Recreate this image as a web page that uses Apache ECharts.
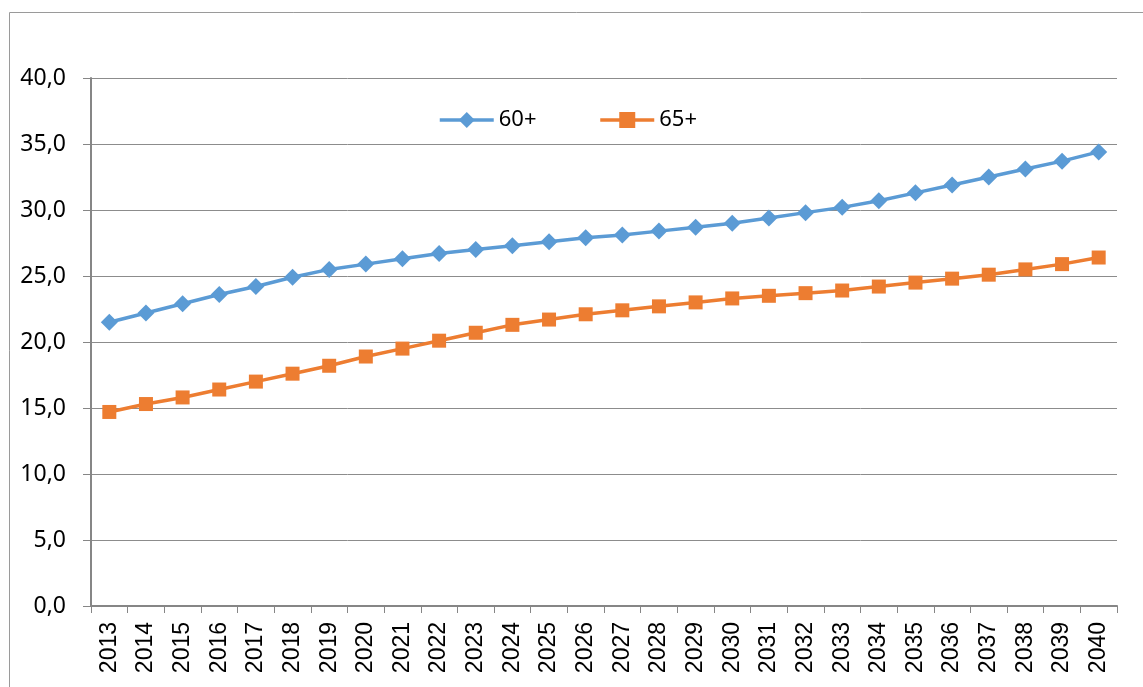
<!DOCTYPE html>
<html>
<head>
<meta charset="utf-8">
<script src="https://cdn.jsdelivr.net/npm/echarts@6/dist/echarts.min.js"></script>
<style>
  html, body { margin: 0; padding: 0; background: #fff; }
  #chart { width: 1143px; height: 687px; }
</style>
</head>
<body>
<div id="chart"></div>
<script>
// Years on the category axis
const years = ['2013','2014','2015','2016','2017','2018','2019','2020','2021','2022',
  '2023','2024','2025','2026','2027','2028','2029','2030','2031','2032',
  '2033','2034','2035','2036','2037','2038','2039','2040'];

// Share of population aged 60 and over
const aged60 = [21.5, 22.2, 22.9, 23.6, 24.2, 24.9, 25.5, 25.9, 26.3, 26.7,
  27.0, 27.3, 27.6, 27.9, 28.1, 28.4, 28.7, 29.0, 29.4, 29.8,
  30.2, 30.7, 31.3, 31.9, 32.5, 33.1, 33.7, 34.4];

// Share of population aged 65 and over
const aged65 = [14.7, 15.3, 15.8, 16.4, 17.0, 17.6, 18.2, 18.9, 19.5, 20.1,
  20.7, 21.3, 21.7, 22.1, 22.4, 22.7, 23.0, 23.3, 23.5, 23.7,
  23.9, 24.2, 24.5, 24.8, 25.1, 25.5, 25.9, 26.4];

const seriesNames = ['60+', '65+'];

const chart = echarts.init(document.getElementById('chart'), null, { renderer: 'canvas' });

const axisGray = '#868686';
const gridGray = '#8c8c8c';

chart.setOption({
  animation: false,
  backgroundColor: '#ffffff',
  graphic: [{
    type: 'rect',
    shape: { x: 9.5, y: 12.5, width: 1200, height: 800 },
    style: { fill: 'none', stroke: '#9a9a9a', lineWidth: 1 },
    silent: true,
    z: -1
  }],
  grid: { left: 91, right: 26, top: 78, bottom: 81, containLabel: false },
  legend: {
    data: seriesNames,
    left: 433,
    top: 104,
    itemWidth: 54,
    itemHeight: 20,
    itemGap: 62,
    lineStyle: { width: 3.5 },
    textStyle: { fontFamily: 'Noto Sans', fontSize: 22, color: '#000' }
  },
  xAxis: {
    type: 'category',
    data: years,
    boundaryGap: true,
    axisLine: { lineStyle: { color: axisGray, width: 2 } },
    axisTick: { show: true, length: 7, inside: false, alignWithLabel: false, lineStyle: { color: axisGray, width: 1 } },
    axisLabel: {
      rotate: 90,
      margin: 16,
      fontFamily: 'Liberation Sans',
      fontSize: 23,
      color: '#000'
    },
    splitLine: { show: false }
  },
  yAxis: {
    type: 'value',
    min: 0,
    max: 40,
    interval: 5,
    axisLine: { show: true, lineStyle: { color: axisGray, width: 2 } },
    axisTick: { show: true, length: 8, lineStyle: { color: axisGray, width: 1 } },
    axisLabel: {
      margin: 25,
      fontFamily: 'Noto Sans',
      fontSize: 23,
      color: '#000',
      formatter: v => v.toFixed(1).replace('.', ',')
    },
    splitLine: { show: true, lineStyle: { color: gridGray, width: 1 } }
  },
  series: [
    {
      name: seriesNames[0],
      type: 'line',
      data: aged60,
      symbol: 'diamond',
      symbolSize: 17,
      color: '#5B9BD5',
      lineStyle: { width: 3.5, color: '#5B9BD5' },
      itemStyle: { color: '#5B9BD5' }
    },
    {
      name: seriesNames[1],
      type: 'line',
      data: aged65,
      symbol: 'rect',
      symbolSize: 14,
      color: '#ED7D31',
      lineStyle: { width: 3.5, color: '#ED7D31' },
      itemStyle: { color: '#ED7D31' }
    }
  ]
});
</script>
</body>
</html>
